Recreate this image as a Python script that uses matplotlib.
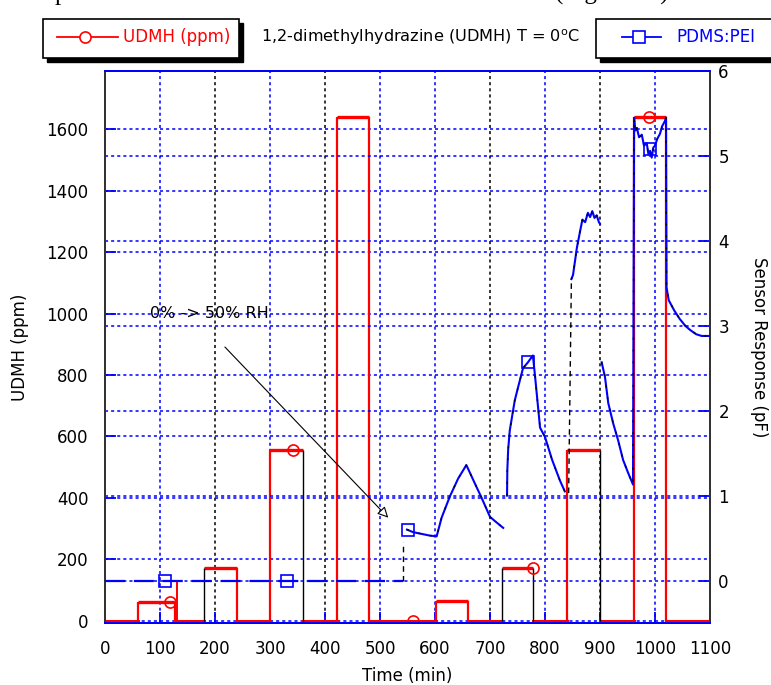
import numpy as np
import matplotlib.pyplot as plt
from matplotlib.patches import Rectangle
from matplotlib.lines import Line2D

nan = np.nan

# UDMH pulses (left axis, ppm)
udmh_start = [60, 180, 300, 422, 602, 722, 840, 962]
udmh_end = [127, 240, 360, 480, 660, 778, 900, 1020]
udmh_ppm = [62, 172, 555, 1640, 65, 172, 555, 1640]
# edges that show up black in the original trace
rise_black = [False, True, False, False, False, True, False, False]
fall_black = [False, False, True, False, False, True, True, False]
spike_t, spike_ppm = 131, 133
udmh_mark_t = [118, 342, 560, 778, 989]
udmh_mark_ppm = [62, 555, 0, 172, 1640]

# PDMS:PEI sensor response (right axis, pF); nan = gap in trace
pdms_base_t = [0, 542]
pdms_base_pf = [0, 0]
pdms_t = [549, 560, 575, 590, 603, 612, 627, 642, 657, 672, 685, 700, 709, 724, nan,
          731, 731.5, 733, 736, 745, 752, 760, 769, 778, 782, 791, 800, 813, 827, 836, nan,
          848, 851, 858, 864, 868, 873, 878, 882, 886, 890, 894, 898, 900, nan,
          903, 909, 915, 924, 933, 942, 951, 960, 962, 964, 967, 971, 976, 980, 985, 988,
          991, 994, 997, 1000, 1004, 1009, 1013, 1018, 1020, 1021, 1025, 1035, 1045,
          1055, 1064, 1075, 1085, 1100]
pdms_pf = [0.60, 0.57, 0.55, 0.53, 0.52, 0.74, 0.99, 1.20, 1.36, 1.15, 0.97, 0.75, 0.70, 0.62, nan,
           1.0, 1.3, 1.54, 1.77, 2.12, 2.30, 2.50, 2.57, 2.65, 2.40, 1.80, 1.69, 1.42, 1.18, 1.05, nan,
           3.55, 3.60, 3.92, 4.12, 4.25, 4.22, 4.33, 4.28, 4.35, 4.27, 4.30, 4.22, 4.20, nan,
           2.57, 2.40, 2.09, 1.85, 1.65, 1.42, 1.27, 1.13, 5.45, 5.30, 5.33, 5.22, 5.25, 5.12, 5.15, 5.02,
           5.06, 4.98, 5.10, 5.12, 5.20, 5.26, 5.35, 5.41, 5.45, 3.45, 3.30, 3.18, 3.08,
           3.00, 2.95, 2.90, 2.88, 2.88]
conn_t = [[542, 542], [843, 848]]
conn_pf = [[0, 0.45], [1.03, 3.55]]
pdms_mark_t = [109, 331, 551, 769, 991]
pdms_mark_pf = [0, 0, 0.60, 2.57, 5.08]

# RH annotation arrow (left-axis units)
rh_text_xy = (82, 1000)
rh_arrow_from = (218, 891)
rh_arrow_to = (515, 335)

left_ticks = list(range(0, 1601, 200))
right_ticks = list(range(0, 7))
x_ticks = list(range(0, 1101, 100))
vgrid_col = ['blue', 'black', 'blue', 'black', 'blue', 'blue', 'black', 'blue', 'black', 'blue']

plt.rcParams['font.family'] = 'DejaVu Sans'
fig = plt.figure(figsize=(7.71, 6.85), dpi=100)
ax = fig.add_axes([105/771, 62/685, 605/771, 552/685])
ax2 = ax.twinx()
ax.set_xlim(0, 1100)
ax.set_ylim(-8, 1790)
ax2.set_ylim(-0.5, 6.0)

dot = (0, (2, 2))
for i, xv in enumerate(x_ticks[1:-1]):
    ax.axvline(xv, color=vgrid_col[i], ls=dot, lw=1.1, zorder=0)
for yv in left_ticks:
    ax.axhline(yv, color='blue', ls=dot, lw=1.1, zorder=0)
for yv in right_ticks:
    ax2.axhline(yv, color='blue', ls=dot, lw=1.1, zorder=0)

# red pulse train
bounds = [0] + [v for pair in zip(udmh_start, udmh_end) for v in pair] + [1100]
for a, b in zip(bounds[0::2], bounds[1::2]):
    ax.plot([a, b], [0, 0], color='red', lw=2.2, zorder=3)
ax.hlines(udmh_ppm, udmh_start, udmh_end, color='red', lw=2.4, zorder=3)
for s, e, lv, rb, fb in zip(udmh_start, udmh_end, udmh_ppm, rise_black, fall_black):
    ax.vlines(s, 0, lv, color='black' if rb else 'red', lw=1.0 if rb else 1.6, zorder=3)
    ax.vlines(e, 0, lv, color='black' if fb else 'red', lw=1.0 if fb else 1.6, zorder=3)
ax.vlines(spike_t, 0, spike_ppm, color='red', lw=1.4, zorder=3)
ax.plot(udmh_mark_t, udmh_mark_ppm, 'o', ms=8, mfc='none', mec='red', mew=1.2, zorder=4)

# blue sensor trace
ax2.plot(pdms_base_t, pdms_base_pf, color='blue', lw=1.6, ls=(0, (9, 4)), zorder=3)
ax2.plot(pdms_t, pdms_pf, color='blue', lw=1.5, zorder=3)
ax2.plot(pdms_t, pdms_pf, color='black', lw=1.0, ls=(0, (1.5, 7)), zorder=3)
for ct, cp in zip(conn_t, conn_pf):
    ax2.plot(ct, cp, color='black', lw=1.0, ls=(0, (4, 3)), zorder=3)
ax2.plot(pdms_mark_t, pdms_mark_pf, 's', ms=8, mfc='none', mec='blue', mew=1.2, zorder=4)

ax.text(*rh_text_xy, '0% -> 50% RH', fontsize=11.5, va='center', ha='left', zorder=5)
ax.annotate('', xy=rh_arrow_to, xytext=rh_arrow_from,
            arrowprops=dict(arrowstyle='-|>', fc='white', ec='black', lw=0.8,
                            mutation_scale=16, shrinkA=0, shrinkB=0))

ax.set_xticks(x_ticks)
ax.set_yticks(left_ticks)
ax2.set_yticks(right_ticks)
ax.tick_params(axis='both', direction='in', color='blue', length=8, width=1.3,
               labelsize=12, pad=12)
ax.tick_params(axis='x', top=False)
ax2.tick_params(axis='y', direction='in', color='blue', length=8, width=1.3,
                labelsize=12, pad=6)
for a in (ax, ax2):
    a.spines['top'].set_color('blue')
    a.spines['bottom'].set_color('blue')
    a.spines['left'].set_color('#333333')
    a.spines['right'].set_color('#333333')
    for s in a.spines.values():
        s.set_linewidth(1.4)
ax.set_xlabel('Time (min)', fontsize=12, labelpad=7)
ax.set_ylabel('UDMH (ppm)', fontsize=12, labelpad=12)
ax2.set_ylabel('Sensor Response (pF)', fontsize=12, rotation=270, labelpad=28)

# top "legend" boxes
def fx(p):
    return p / 771
def fy(p):
    return 1 - p / 685

for x0, w in [(43, 196), (596, 260)]:
    fig.add_artist(Rectangle((fx(x0 + 4), fy(62)), fx(w), 39/685, transform=fig.transFigure,
                             fc='black', ec='black', lw=1))
    fig.add_artist(Rectangle((fx(x0), fy(58)), fx(w), 39/685, transform=fig.transFigure,
                             fc='white', ec='black', lw=1.2))
fig.add_artist(Line2D([fx(57), fx(118)], [fy(37), fy(37)], color='red', lw=1.3,
                      transform=fig.transFigure))
fig.add_artist(Line2D([fx(85)], [fy(37)], marker='o', ms=8, mfc='white', mec='red',
                      mew=1.2, transform=fig.transFigure))
fig.text(fx(123), fy(37), 'UDMH (ppm)', color='red', fontsize=12, va='center')
fig.text(fx(261), fy(37), '1,2-dimethylhydrazine (UDMH) T = 0$^\\mathrm{o}$C',
         fontsize=11.6, va='center')
fig.add_artist(Line2D([fx(622), fx(661)], [fy(37), fy(37)], color='blue', lw=1.3,
                      transform=fig.transFigure))
fig.add_artist(Line2D([fx(639)], [fy(37)], marker='s', ms=8, mfc='white', mec='blue',
                      mew=1.2, transform=fig.transFigure))
fig.text(fx(676), fy(37), 'PDMS:PEI', color='blue', fontsize=12, va='center')

# cut-off caption text from the source page
fig.text(fx(55), 1.0, 'p', family='Liberation Serif', fontsize=18, va='baseline')
fig.text(fx(555), 1.0, '(Figure 10)', family='Liberation Serif', fontsize=18, va='baseline')

fig.savefig('out.png', dpi=100)
